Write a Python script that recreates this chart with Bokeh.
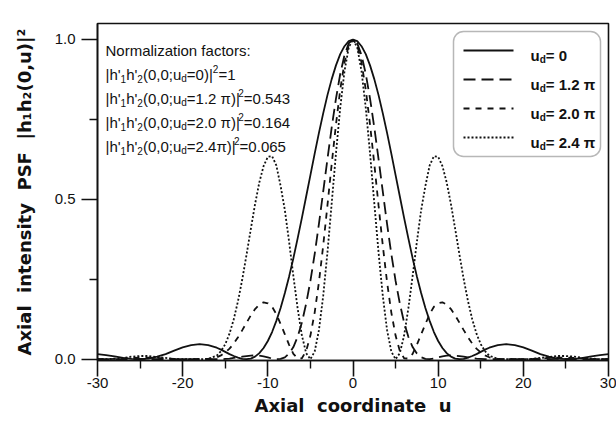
from bokeh.plotting import figure
from bokeh.models import Range1d, FixedTicker, PrintfTickFormatter, Label, BoxAnnotation
from bokeh.embed import file_html
from bokeh.resources import INLINE

# ---------------- data ----------------
u = [-30, -29, -28, -27, -26, -25, -24, -23, -22, -21, -20, -19, -18, -17,
     -16, -15.5, -15, -14.5, -14, -13.5, -13, -12.5, -12, -11.5, -11, -10.5,
     -10, -9.5, -9, -8.5, -8, -7.5, -7, -6.5, -6, -5.5, -5, -4.5, -4, -3.5,
     -3, -2.5, -2, -1.5, -1, -0.5,
     0,
     0.5, 1, 1.5, 2, 2.5, 3, 3.5, 4, 4.5, 5, 5.5, 6, 6.5, 7, 7.5, 8, 8.5,
     9, 9.5, 10, 10.5, 11, 11.5, 12, 12.5, 13, 13.5, 14, 14.5, 15, 15.5, 16,
     17, 18, 19, 20, 21, 22, 23, 24, 25, 26, 27, 28, 29, 30]

psf_ud0 = [.016, .013, .009, .004, .001, .000, .002, .008, .016, .027, .037, .044, .047, .044,
           .036, .030, .023, .016, .010, .005, .001, .000, .002, .008, .019, .035,
           .057, .085, .120, .160, .207, .259, .316, .378, .442, .509, .576, .643, .708, .769,
           .826, .876, .919, .954, .979, .995,
           1.000,
           .995, .979, .954, .919, .876, .826, .769, .708, .643, .576, .509, .442, .378, .316, .259, .207, .160,
           .120, .085, .057, .035, .019, .008, .002, .000, .001, .005, .010, .016, .023, .030, .036,
           .044, .047, .044, .037, .027, .016, .008, .002, .000, .001, .004, .009, .013, .016]

psf_ud12 = [.000, .000, .000, .000, .000, .001, .001, .000, .000, .000, .000, .000, .000, .000,
            .000, .000, .001, .002, .004, .006, .008, .010, .011, .012, .011, .009,
            .006, .002, .000, .001, .006, .018, .038, .070, .115, .174, .245, .329, .423, .524,
            .626, .725, .815, .892, .951, .988,
            1.000,
            .988, .951, .892, .815, .725, .626, .524, .423, .329, .245, .174, .115, .070, .038, .018, .006, .001,
            .000, .002, .006, .009, .011, .012, .011, .010, .008, .006, .004, .002, .001, .000, .000,
            .000, .000, .000, .000, .000, .000, .000, .001, .001, .000, .000, .000, .000, .000]

psf_ud20 = [.000, .000, .001, .002, .004, .005, .005, .004, .002, .001, .000, .000, .000, .001,
            .006, .012, .021, .033, .049, .069, .091, .114, .137, .157, .171, .178,
            .175, .164, .141, .110, .078, .045, .017, .002, .003, .026, .074, .146, .241, .355,
            .481, .611, .734, .843, .928, .982,
            1.000,
            .982, .928, .843, .734, .611, .481, .355, .241, .146, .074, .026, .003, .002, .017, .045, .078, .110,
            .141, .164, .175, .178, .171, .157, .137, .114, .091, .069, .049, .033, .021, .012, .006,
            .001, .000, .000, .000, .001, .002, .004, .005, .005, .004, .002, .001, .000, .000]

psf_ud24 = [.000, .000, .002, .004, .008, .010, .010, .007, .004, .001, .000, .000, .000, .001,
            .011, .025, .047, .080, .125, .182, .250, .327, .407, .485, .553, .604,
            .633, .635, .606, .542, .466, .367, .260, .159, .074, .019, .000, .024, .091, .198,
            .334, .488, .644, .786, .901, .975,
            1.000,
            .975, .901, .786, .644, .488, .334, .198, .091, .024, .000, .019, .074, .159, .260, .367, .466, .542,
            .606, .635, .633, .604, .553, .485, .407, .327, .250, .182, .125, .080, .047, .025, .011,
            .001, .000, .000, .000, .001, .004, .007, .010, .010, .008, .004, .002, .000, .000]

x_ticks = [-30, -20, -10, 0, 10, 20, 30]
x_minor_ticks = [-25, -15, -5, 5, 15, 25]
y_ticks = [0.0, 0.5, 1.0]
y_minor_ticks = [0.25, 0.75]

norm_title = "Normalization factors:"
norm_ud = ["0", "1.2 \u03c0", "2.0 \u03c0", "2.4\u03c0"]
norm_values = ["1", "0.543", "0.164", "0.065"]
legend_ud = ["0", "1.2 \u03c0", "2.0 \u03c0", "2.4 \u03c0"]
legend_dashes = ["solid", "12 6", "6 6", "2 2"]

NB = "\u00a0"
x_label = (NB * 2).join(["Axial", "coordinate", "u"])
y_label = (NB + " ").join(["Axial", "intensity", "PSF", "|h\u2081h\u2082(0,u)|\u00b2"])

# ---------------- layout helpers ----------------
W_PAGE, H_PAGE = 616, 432
FL, FR, FT, FB = 97, 608, 23, 360          # frame edges (px)
XMIN, XMAX, YMIN, YMAX = -30, 30, -0.004, 1.05


def X(px):
    return XMIN + (px - FL) * (XMAX - XMIN) / (FR - FL)


def Y(py):
    return YMIN + (FB - py) * (YMAX - YMIN) / (FB - FT)


W_REG = {'|': .260, 'h': .556, "'": .191, '(': .333, ')': .333, ',': .278, ';': .278,
         '.': .278, ' ': .278, '=': .584, 'u': .556, 'd': .556, '\u03c0': .58, ':': .278}
W_BOLD = {'|': .280, 'h': .611, "'": .238, '(': .333, ')': .333, ',': .278, ';': .333,
          '.': .278, ' ': .278, '=': .584, 'u': .611, 'd': .611, '\u03c0': .60, ':': .333}


def tw(s, size, bold=False):
    table = W_BOLD if bold else W_REG
    return sum(table.get(c, .556) for c in s) * size


p = figure(width=W_PAGE, height=H_PAGE,
           x_range=Range1d(XMIN, XMAX), y_range=Range1d(YMIN, YMAX),
           output_backend="svg", toolbar_location=None,
           min_border_left=FL, min_border_right=W_PAGE - FR,
           min_border_top=FT, min_border_bottom=H_PAGE - FB)
p.background_fill_color = "white"
p.border_fill_color = "white"
p.grid.visible = False
p.outline_line_color = "#111111"
p.outline_line_width = 1.6

INK = "#111111"


def put(px, py, txt, size, bold=False):
    p.add_layout(Label(x=X(px), y=Y(py), text=txt,
                       text_font="Liberation Sans", text_font_size=f"{size}px",
                       text_font_style="bold" if bold else "normal",
                       text_color=INK, text_baseline="alphabetic", text_align="left"))


def rich(px, py, pieces, size, bold=False):
    x = px
    small = round(size * 0.66)
    for txt, kind in pieces:
        if kind == "n":
            put(x, py, txt, size, bold)
            x += tw(txt, size, bold)
        elif kind == "sub":
            put(x, py + 4, txt, small, bold)
            x += tw(txt, small, bold)
        else:
            put(x, py - 6, txt, small, bold)
            x += tw(txt, small, bold)


# ---------------- curves ----------------
p.line(u, psf_ud0, line_color=INK, line_width=1.8)
p.line(u, psf_ud12, line_color=INK, line_width=1.8, line_dash="12 6")
p.line(u, psf_ud20, line_color=INK, line_width=1.8, line_dash="6 6")
p.line(u, psf_ud24, line_color=INK, line_width=1.8, line_dash="2 2")

# ---------------- axes ----------------
for ax in (p.xaxis[0], p.yaxis[0]):
    ax.axis_line_width = 1.6
    ax.axis_line_color = INK
    ax.major_tick_line_width = 1.6
    ax.minor_tick_line_width = 1.4
    ax.major_tick_line_color = INK
    ax.minor_tick_line_color = INK
    ax.major_tick_in = 0
    ax.major_tick_out = 16
    ax.minor_tick_in = 0
    ax.minor_tick_out = 8
    ax.major_label_text_font = "Liberation Sans"
    ax.major_label_text_font_size = "15px"
    ax.major_label_text_color = INK
    ax.axis_label_text_font = "DejaVu Sans"
    ax.axis_label_text_font_style = "bold"
    ax.axis_label_text_font_size = "18px"
    ax.axis_label_text_color = INK

p.xaxis.ticker = FixedTicker(ticks=x_ticks, minor_ticks=x_minor_ticks)
p.yaxis.ticker = FixedTicker(ticks=y_ticks, minor_ticks=y_minor_ticks)
p.xaxis.formatter = PrintfTickFormatter(format="%d")
p.yaxis.formatter = PrintfTickFormatter(format="%.1f")
p.xaxis.major_label_standoff = 1
p.yaxis.major_label_standoff = 6
p.xaxis.axis_label = x_label
p.yaxis.axis_label = y_label
p.xaxis.axis_label_standoff = 4
p.yaxis.axis_label_standoff = 17

# ---------------- normalization text ----------------
put(105, 50, norm_title, 15)
for i, (ud, val) in enumerate(zip(norm_ud, norm_values)):
    base = 74 + 24 * i
    rich(105, base, [("|h'", "n"), ("1", "sub"), ("h'", "n"), ("2", "sub"),
                     ("(0,0;u", "n"), ("d", "sub"), ("=" + ud + ")|", "n"),
                     ("2", "sup"), ("=" + val, "n")], 15)

# ---------------- legend ----------------
p.add_layout(BoxAnnotation(left=X(453), right=X(600), top=Y(31), bottom=Y(156),
                           fill_alpha=0, line_color=INK, line_width=1.5,
                           border_radius=10))
for i, (ud, dash) in enumerate(zip(legend_ud, legend_dashes)):
    row = 50 + 29 * i
    p.line([X(463), X(513)], [Y(row), Y(row)], line_color=INK, line_width=1.8,
           line_dash=dash)
    rich(530, row + 5, [("u", "n"), ("d", "sub"), ("= " + ud, "n")], 15, bold=True)

open("out.html", "w").write(file_html(p, INLINE))
